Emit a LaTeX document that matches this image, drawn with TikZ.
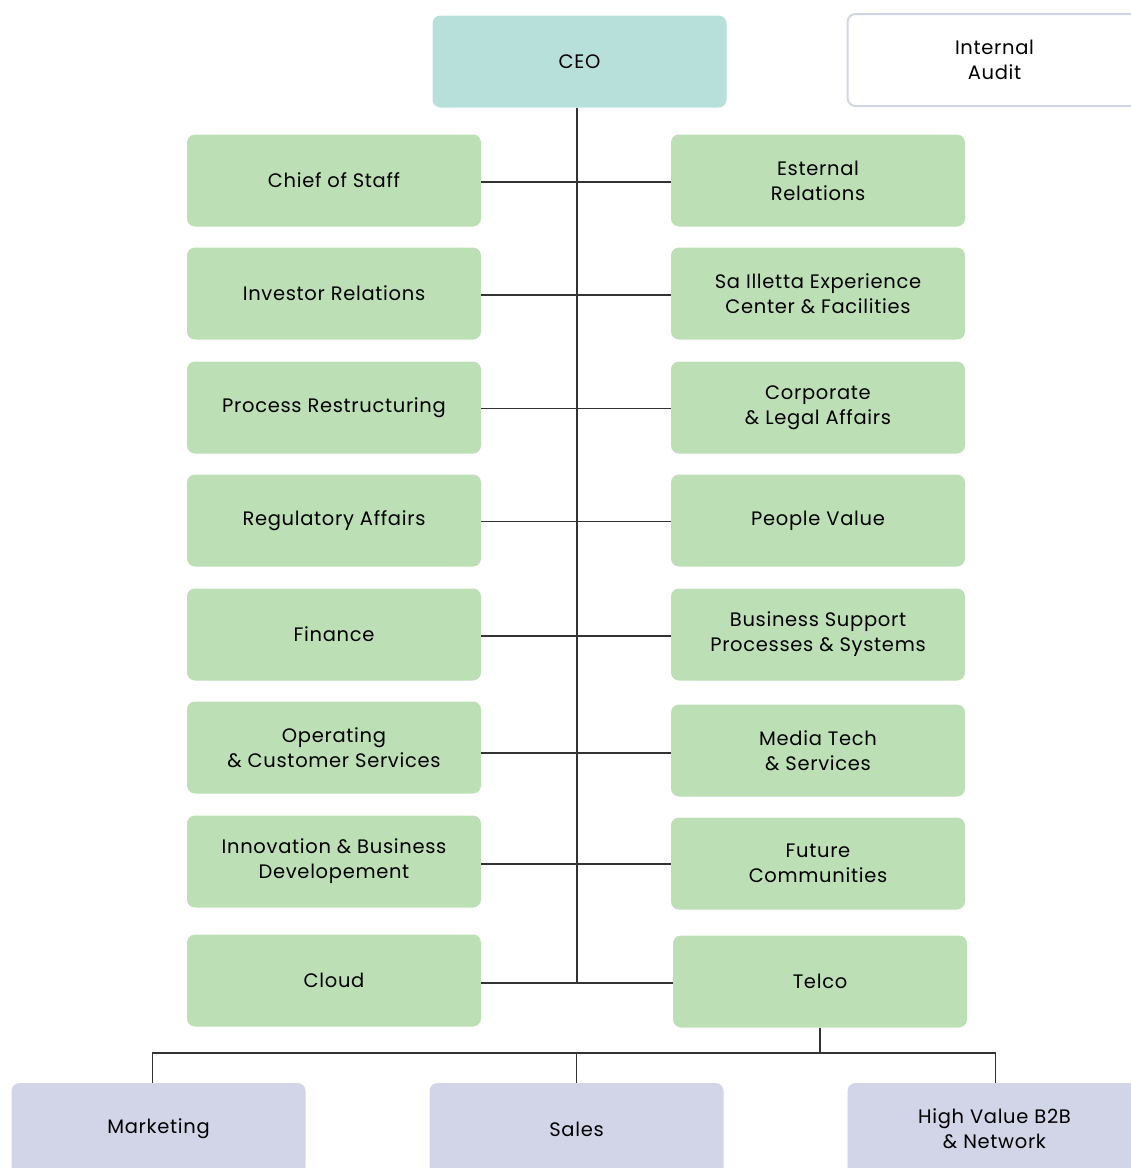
\documentclass[tikz,border=0pt]{standalone}
\usepackage{fontspec}
\setmainfont{Poppins}[LetterSpace=3.5]
\definecolor{ceoteal}{HTML}{B7E0DA}
\definecolor{unitgreen}{HTML}{BDDFB5}
\definecolor{bulav}{HTML}{D2D5E8}
\definecolor{linegray}{HTML}{333333}
\begin{document}
\begin{tikzpicture}[x=1pt,y=-1pt,
  box/.style={rounded corners=8pt, minimum width=294pt, minimum height=92pt,
    inner sep=0pt, align=center, font=\fontsize{19.5}{25}\selectfont},
  unit/.style={box, fill=unitgreen},
  bu/.style={box, fill=bulav},
  link/.style={draw=linegray, line width=1.2pt}]
\useasboundingbox (0,0) rectangle (1131,1168);

% vertice
\node[box, fill=ceoteal] (ceo) at (579.5,61.5) {CEO};
\node[box, fill=white, draw=bulav, line width=2pt] (audit) at (994.5,60) {Internal\\Audit};

% colonna sinistra
\node[unit] (staff) at (334,180.5) {Chief of Staff};
\node[unit] (investor) at (334,293.5) {Investor Relations};
\node[unit] (process) at (334,407.5) {Process Restructuring};
\node[unit] (regulatory) at (334,520.5) {Regulatory Affairs};
\node[unit] (finance) at (334,634.5) {Finance};
\node[unit] (operating) at (334,747.5) {Operating\\\& Customer Services};
\node[unit] (innovation) at (334,861.5) {Innovation \& Business\\Developement};
\node[unit] (cloud) at (334,980.5) {Cloud};

% colonna destra
\node[unit] (external) at (818,180.5) {Esternal\\Relations};
\node[unit] (illetta) at (818,293.5) {Sa Illetta Experience\\Center \& Facilities};
\node[unit] (legal) at (818,407.5) {Corporate\\\& Legal Affairs};
\node[unit] (people) at (818,520.5) {People Value};
\node[unit] (support) at (818,634.5) {Business Support\\Processes \& Systems};
\node[unit] (media) at (818,750.5) {Media Tech\\\& Services};
\node[unit] (future) at (818,863.5) {Future\\Communities};
\node[unit] (telco) at (820,981.5) {Telco};

% business unit
\node[bu] (marketing) at (158.5,1129) {Marketing};
\node[bu] (sales) at (576.5,1129) {Sales};
\node[bu] (highvalue) at (994.5,1129) {High Value B2B\\\& Network};

% collegamenti
\draw[link] ([xshift=-2.5pt]ceo.south) -- ([xshift=-2.5pt,yshift=-2.5pt]ceo.south |- cloud.east);
\draw[link] ([yshift=-1.5pt]staff.east) -- ([yshift=-1.5pt]staff.east -| external.west);
\draw[link] ([yshift=-1.5pt]investor.east) -- ([yshift=-1.5pt]investor.east -| illetta.west);
\draw[link] ([yshift=-1pt]process.east) -- ([yshift=-1pt]process.east -| legal.west);
\draw[link] ([yshift=-1pt]regulatory.east) -- ([yshift=-1pt]regulatory.east -| people.west);
\draw[link] ([yshift=-1.5pt]finance.east) -- ([yshift=-1.5pt]finance.east -| support.west);
\draw[link] ([yshift=-5.5pt]operating.east) -- ([yshift=-5.5pt]operating.east -| media.west);
\draw[link] ([yshift=-2.5pt]innovation.east) -- ([yshift=-2.5pt]innovation.east -| future.west);
\draw[link] ([yshift=-2.5pt]cloud.east) -- ([yshift=-2.5pt]cloud.east -| telco.west);

% sotto Telco
\coordinate (bus) at (577,1053);
\draw[link] (telco.south) -- (telco.south |- bus);
\draw[link] ([xshift=-6pt]marketing.north) |- ([xshift=1pt]highvalue.north |- bus) -- ([xshift=1pt]highvalue.north);
\draw[link] (sales.north) -- (sales.north |- bus);
\end{tikzpicture}
\end{document}
